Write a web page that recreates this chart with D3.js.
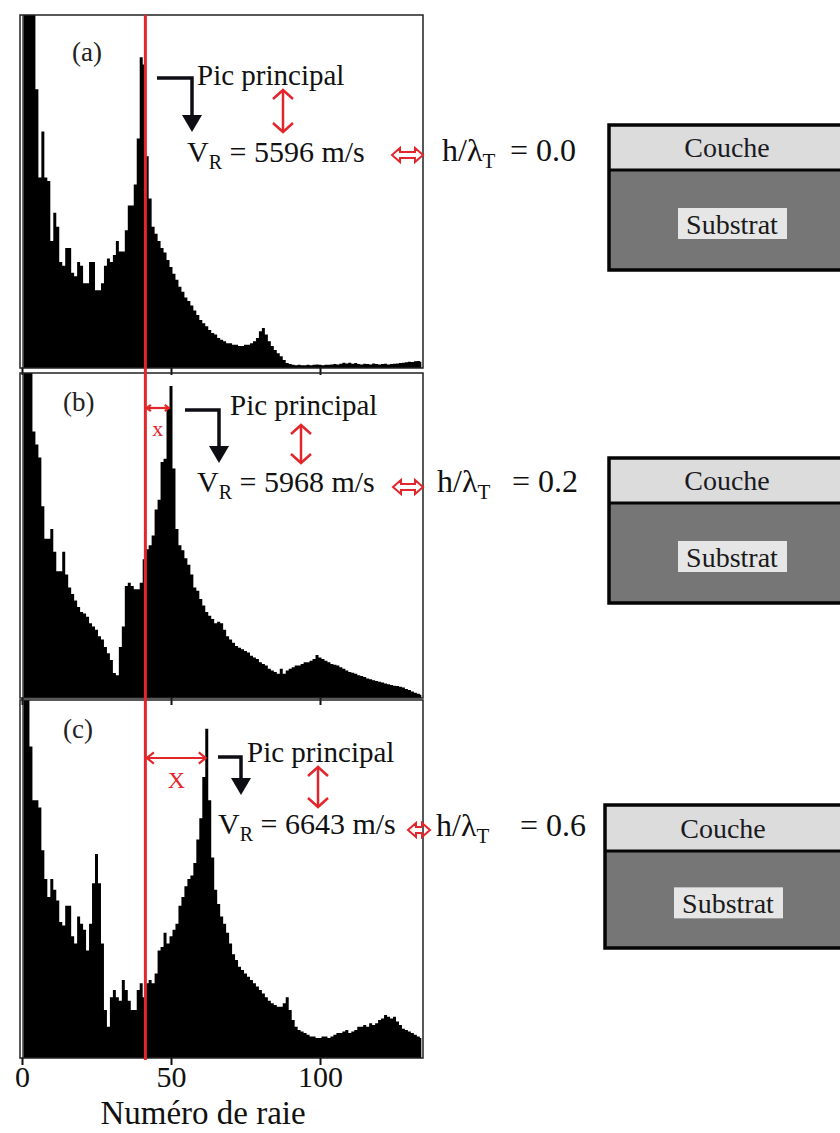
<!DOCTYPE html>
<html>
<head>
<meta charset="utf-8">
<script src="https://cdn.jsdelivr.net/npm/d3@7/dist/d3.min.js"></script>
<style>
  body { margin: 0; background: #fff; }
  svg { display: block; }
  svg text { font-family: "Liberation Serif", "Times New Roman", "DejaVu Serif", serif; }
</style>
</head>
<body>
<svg id="chart" width="840" height="1133"></svg>
<script>
// panel texts
const panelLabels = ["(a)", "(b)", "(c)"];
const velocities = [5596, 5968, 6643];
const ratios = ["0.0", "0.2", "0.6"];
const xTicks = [0, 50, 100];
const xTitle = "Numéro de raie";

// red reference line and main peak positions (line number)
const refLine = 41.4;
const peakBins = [40.5, 49.6, 62];

// histogram counts, one value per line number 0..134 (percent of panel height)
const countsA = [
  0, 120, 120, 120, 120, 79, 54, 67, 54, 53,
  36, 44, 40, 30, 29, 34, 34, 27, 26, 30,
  29, 24, 24, 30, 30, 22, 22, 24, 29, 31,
  30, 32, 36, 33, 33, 39, 46, 46, 52, 65,
  88, 86, 60, 48, 40, 38, 36, 34, 32.7, 30.6,
  28.6, 26.7, 25, 23, 21.6, 20, 19, 17.7, 16.3, 15,
  13.6, 12.7, 11.8, 10.8, 9.9, 9.5, 8.5, 8, 7.6, 7,
  7, 6.6, 6.6, 6.2, 6.2, 6.6, 6.6, 7, 7.6, 8.5,
  10.4, 11.3, 9.5, 7.6, 6.2, 5.1, 4.2, 3.3, 2.3, 1.4,
  1.1, 0.9, 0.8, 0.9, 0.8, 0.8, 0.9, 0.8, 0.9, 1.0,
  0.9, 0.8, 0.9, 0.9, 1.0, 1.1, 1.0, 1.2, 1.5, 1.3,
  1.5, 1.2, 1.4, 1.1, 1.0, 1.2, 1.1, 1.0, 1.3, 1.1,
  1.0, 1.1, 1.2, 1.0, 1.1, 1.2, 1.3, 1.4, 1.5, 1.6,
  1.8, 1.7, 1.9, 2.0, 1.8
];
const countsB = [
  0, 120, 120, 120, 82, 78, 74, 59, 49, 49,
  52, 45, 39, 39, 45, 38, 34, 32, 30, 28,
  26.5, 26, 25, 23, 22, 21, 19, 18, 15.7, 13.8,
  11.7, 7.7, 7, 15.7, 22, 34.5, 35.5, 34.5, 33.5, 33.5,
  35.5, 42.7, 45.8, 47, 50, 58, 61, 72.6, 73.6, 89.5,
  96, 70.6, 52, 47, 45.5, 43, 41, 38, 34, 33,
  30.5, 28.5, 26.5, 25.3, 24.3, 23, 23.5, 23, 21, 19,
  18, 17, 16, 15.5, 15, 14.5, 14, 13, 12.5, 12,
  11, 10.5, 10, 9, 8.5, 8, 7.5, 9, 7.5, 8.5,
  9, 9.5, 10, 10, 10.5, 11, 11, 11.5, 12, 13.2,
  12.5, 12, 11.5, 11, 10.5, 10.2, 10, 9.5, 9, 8.5,
  8, 7.8, 7.5, 7, 6.8, 6.5, 6, 5.8, 5.5, 5.2,
  5, 4.8, 4.5, 4.2, 4, 3.8, 3.7, 3.5, 3.2, 2.8,
  2.5, 2, 1.6, 1.3, 1
];
const countsC = [
  0, 120, 120, 87, 72, 72, 70, 58, 50, 45,
  50, 47, 44, 38, 37, 42.5, 42.5, 34, 32, 39.5,
  37.5, 35.8, 30, 37.5, 48.8, 57, 48.8, 32, 13.4, 8.7,
  17, 19, 17, 16, 21.8, 19, 16, 13.4, 13.4, 19,
  20.9, 17, 20.9, 21.8, 20.9, 23.6, 30, 31, 35, 32,
  34, 35.8, 37.5, 42.5, 45, 48, 50, 51, 54.5, 61,
  67, 78.5, 92, 72, 56, 47, 43, 39.5, 37.5, 35,
  32, 29, 27.4, 25.5, 24.6, 23.6, 22.7, 21.8, 20.9, 20,
  19, 18, 17, 16, 15.3, 14.8, 14.3, 14.3, 15.3, 17,
  13.4, 10.6, 8.7, 7.8, 7.4, 7, 6.5, 6, 6, 5.6,
  5.6, 6, 6, 5.6, 6, 6.5, 7, 7, 7.4, 7.8,
  7, 7.4, 7.8, 8.7, 8.7, 9.2, 8.7, 9.7, 9.2, 9.7,
  10.6, 11, 12, 11.5, 11, 11.5, 10.2, 9.2, 8.2, 7.8,
  7.4, 7, 6.5, 6, 5.6
];

const RED = "#e3262b";
const svg = d3.select("#chart");

var frameLeft = 20, frameRight = 423;
var x = d3.scaleLinear().domain([0, 100]).range([22, 320]);

var panels = [
  { top: 15, bottom: 368, counts: countsA },
  { top: 373, bottom: 698, counts: countsB },
  { top: 700, bottom: 1058, counts: countsC }
];

// annotation placement (pixels)
var layout = [
  { label: [72, 61], pic: [197, 85], bent: [157, 192, 78, 132], vArr: [283, 90, 132],
    vr: [187, 162], dbl: [392, 423, 155], ratio: [442, 161], eq: 68 },
  { label: [63, 411], pic: [230, 415], bent: [185, 219, 410, 463], vArr: [301, 425, 463],
    vr: [197, 492], dbl: [393, 423, 487], ratio: [437, 492], eq: 75,
    mark: { y: 408, ty: 436, size: 22, text: "x" } },
  { label: [63, 738], pic: [247, 762], bent: [218, 241, 757, 795], vArr: [318, 767, 807],
    vr: [218, 834], dbl: [408, 430, 830], ratio: [436, 836], eq: 84,
    mark: { y: 758, ty: 788, size: 24, text: "X" } }
];

var boxes = [
  { x: 609, top: 125, mid: 170, bottom: 270 },
  { x: 609, top: 458, mid: 503, bottom: 603 },
  { x: 605, top: 805, mid: 851, bottom: 948 }
];

panels.forEach(function (p, i) {
  var y = d3.scaleLinear().domain([0, 100]).range([p.bottom, p.top]);
  var g = svg.append("g").attr("class", "panel");

  g.append("clipPath").attr("id", "clip" + i)
    .append("rect")
    .attr("x", frameLeft).attr("y", p.top)
    .attr("width", frameRight - frameLeft).attr("height", p.bottom - p.top);

  var area = d3.area()
    .curve(d3.curveStep)
    .x(function (d, j) { return x(j); })
    .y0(y(0))
    .y1(function (d) { return y(d); });

  g.append("path")
    .datum(p.counts)
    .attr("clip-path", "url(#clip" + i + ")")
    .attr("fill", "#000")
    .attr("d", area);

  // frame + inner y axis line (double line look)
  g.append("rect")
    .attr("x", frameLeft).attr("y", p.top)
    .attr("width", frameRight - frameLeft).attr("height", p.bottom - p.top)
    .attr("fill", "none").attr("stroke", "#222").attr("stroke-width", 1.5);
  g.append("line")
    .attr("x1", frameLeft + 3).attr("x2", frameLeft + 3)
    .attr("y1", p.top).attr("y2", p.bottom)
    .attr("stroke", "#222").attr("stroke-width", 1.3);

  var axis = d3.axisBottom(x).tickValues(xTicks).tickSize(7).tickPadding(1)
    .tickFormat(i === 2 ? d3.format("d") : function () { return ""; });
  var ax = g.append("g")
    .attr("transform", "translate(0," + p.bottom + ")")
    .call(axis);
  ax.attr("font-family", null);
  ax.select(".domain").remove();
  ax.selectAll(".tick line").attr("stroke", "#111").attr("stroke-width", 2);
  ax.selectAll(".tick text")
    .attr("fill", "#111")
    .style("font-size", "30px");
});

// red reference line through all three panels
svg.append("line")
  .attr("x1", x(refLine)).attr("x2", x(refLine))
  .attr("y1", panels[0].top).attr("y2", panels[2].bottom + 2)
  .attr("stroke", RED).attr("stroke-width", 3);

svg.append("text")
  .attr("x", 203).attr("y", 1124)
  .attr("text-anchor", "middle")
  .style("font-size", "33px")
  .attr("fill", "#111")
  .text(xTitle);

function chevronV(g, cx, cy, dir) {
  g.append("path")
    .attr("d", "M" + (cx - 10) + "," + (cy + dir * 9) + "L" + cx + "," + cy + "L" + (cx + 10) + "," + (cy + dir * 9))
    .attr("fill", "none").attr("stroke", RED).attr("stroke-width", 2.5);
}
function chevronH(g, cx, cy, dir, s) {
  g.append("path")
    .attr("d", "M" + (cx + dir * s) + "," + (cy - s * 0.8) + "L" + cx + "," + cy + "L" + (cx + dir * s) + "," + (cy + s * 0.8))
    .attr("fill", "none").attr("stroke", RED).attr("stroke-width", 2.2);
}

layout.forEach(function (L, i) {
  var g = svg.append("g").attr("class", "annot");

  g.append("text").attr("x", L.label[0]).attr("y", L.label[1])
    .style("font-size", "27px").attr("fill", "#222").text(panelLabels[i]);

  g.append("text").attr("x", L.pic[0]).attr("y", L.pic[1])
    .style("font-size", "29px").attr("fill", "#111").text("Pic principal");

  // bent black arrow
  var b = L.bent;
  g.append("path")
    .attr("d", "M" + b[0] + "," + b[2] + "H" + b[1] + "V" + (b[3] - 15))
    .attr("fill", "none").attr("stroke", "#0d0d14").attr("stroke-width", 3.5);
  g.append("path")
    .attr("d", "M" + (b[1] - 10) + "," + (b[3] - 17) + "L" + (b[1] + 10) + "," + (b[3] - 17) + "L" + b[1] + "," + b[3] + "Z")
    .attr("fill", "#0d0d14");

  // red vertical double arrow
  var v = L.vArr;
  g.append("line").attr("x1", v[0]).attr("x2", v[0]).attr("y1", v[1]).attr("y2", v[2])
    .attr("stroke", RED).attr("stroke-width", 2.5);
  chevronV(g, v[0], v[1], 1);
  chevronV(g, v[0], v[2], -1);

  // V_R = ... m/s
  var t = g.append("text").attr("x", L.vr[0]).attr("y", L.vr[1])
    .style("font-size", "30px").attr("fill", "#111");
  t.append("tspan").text("V");
  t.append("tspan").attr("dy", 7).style("font-size", "20px").text("R");
  t.append("tspan").attr("dy", -7).text(" = " + velocities[i] + " m/s");

  // hollow red double arrow
  var d = L.dbl, cy = d[2];
  g.append("path")
    .attr("d", "M" + d[0] + "," + cy + "L" + (d[0] + 8) + "," + (cy - 7) + "V" + (cy - 3) + "H" + (d[1] - 8) +
      "V" + (cy - 7) + "L" + d[1] + "," + cy + "L" + (d[1] - 8) + "," + (cy + 7) + "V" + (cy + 3) +
      "H" + (d[0] + 8) + "V" + (cy + 7) + "Z")
    .attr("fill", "none").attr("stroke", RED).attr("stroke-width", 2);

  // h/lambda_T = ...
  var r = g.append("text").attr("x", L.ratio[0]).attr("y", L.ratio[1])
    .style("font-size", "32px").attr("fill", "#111");
  r.append("tspan").text("h/λ");
  r.append("tspan").attr("dy", 7).style("font-size", "21px").text("T");
  r.append("tspan").attr("dy", -7).attr("x", L.ratio[0] + L.eq).text("= " + ratios[i]);

  // shift x between red line and main peak
  if (L.mark) {
    var x0 = x(refLine) + 1.5, x1 = x(peakBins[i]) - 1;
    var s = i === 1 ? 4 : 7;
    g.append("line").attr("x1", x0).attr("x2", x1).attr("y1", L.mark.y).attr("y2", L.mark.y)
      .attr("stroke", RED).attr("stroke-width", 2.2);
    chevronH(g, x0, L.mark.y, 1, s);
    chevronH(g, x1, L.mark.y, -1, s);
    g.append("text").attr("x", (x0 + x1) / 2).attr("y", L.mark.ty)
      .attr("text-anchor", "middle").style("font-size", L.mark.size + "px")
      .attr("fill", RED).text(L.mark.text);
  }
});

// layer sketches on the right
boxes.forEach(function (B) {
  var g = svg.append("g").attr("class", "layers");
  g.append("rect").attr("x", B.x).attr("y", B.top).attr("width", 260).attr("height", B.mid - B.top)
    .attr("fill", "#dcdcdc");
  g.append("rect").attr("x", B.x).attr("y", B.mid).attr("width", 260).attr("height", B.bottom - B.mid)
    .attr("fill", "#767676");
  g.append("rect").attr("x", B.x).attr("y", B.top).attr("width", 260).attr("height", B.bottom - B.top)
    .attr("fill", "none").attr("stroke", "#050505").attr("stroke-width", 3.5);
  g.append("line").attr("x1", B.x).attr("x2", B.x + 260).attr("y1", B.mid).attr("y2", B.mid)
    .attr("stroke", "#050505").attr("stroke-width", 3);

  g.append("text").attr("x", B.x + 118).attr("y", B.top + (B.mid - B.top) * 0.72)
    .attr("text-anchor", "middle").style("font-size", "28px").attr("fill", "#1a1a22").text("Couche");

  var sy = B.mid + (B.bottom - B.mid) * 0.55;
  g.append("rect").attr("x", B.x + 69).attr("y", sy - 17).attr("width", 109).attr("height", 31)
    .attr("fill", "#e6e6e6");
  g.append("text").attr("x", B.x + 123).attr("y", sy + 9)
    .attr("text-anchor", "middle").style("font-size", "28px").attr("fill", "#1a1a1a").text("Substrat");
});
</script>
</body>
</html>
